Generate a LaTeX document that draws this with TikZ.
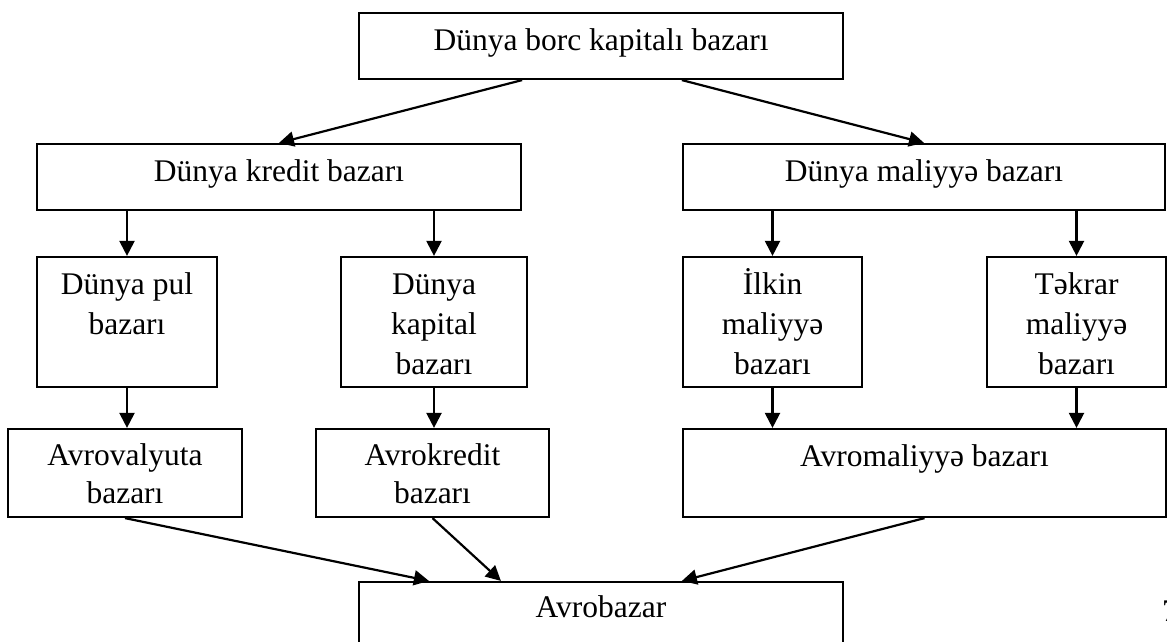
\documentclass[tikz,border=0pt]{standalone}
\usepackage{fontspec}
\setmainfont{Liberation Serif}
\usetikzlibrary{arrows.meta}
\newcommand\stk[2]{\vtop{\baselineskip=#1\lineskiplimit=-100pt\halign{\hfil##\hfil\cr #2\crcr}}}
\begin{document}
\begin{tikzpicture}[x=1pt,y=-1pt,
  box/.style={draw, line width=2.2pt, inner sep=0pt},
  txt/.style={anchor=base, inner sep=0pt, font=\fontsize{31.5}{40}\selectfont},
  arr/.style={line width=2.2pt, -{Triangle[length=15pt,width=15pt]}}]
\useasboundingbox (0,0) rectangle (1167,641);
% row 1
\node[box, minimum width=484pt, minimum height=66pt] (top) at (601,46) {};
\node[txt] (ttop) at ([yshift=-39pt]top.north) {Dünya borc kapitalı bazarı};
% row 2
\node[box, minimum width=484pt, minimum height=66pt] (kredit) at (279,177) {};
\node[txt] (tkredit) at ([yshift=-39pt]kredit.north) {Dünya kredit bazarı};
\node[box, minimum width=482pt, minimum height=66pt] (maliyye) at (924,177) {};
\node[txt] (tmaliyye) at ([yshift=-39pt]maliyye.north) {Dünya maliyyə bazarı};
% row 3
\node[box, minimum width=180pt, minimum height=130pt] (pul) at (127,322) {};
\node[txt] (tpul) at ([yshift=-39pt]pul.north) {\stk{40pt}{Dünya pul\cr bazarı}};
\node[box, minimum width=186pt, minimum height=130pt] (kapital) at (434,322) {};
\node[txt] (tkapital) at ([yshift=-39pt]kapital.north) {\stk{40pt}{Dünya\cr kapital\cr bazarı}};
\node[box, minimum width=179pt, minimum height=130pt] (ilkin) at (772.5,322) {};
\node[txt] (tilkin) at ([yshift=-39pt]ilkin.north) {\stk{40pt}{İlkin\cr maliyyə\cr bazarı}};
\node[box, minimum width=179pt, minimum height=130pt] (tekrar) at (1076.5,322) {};
\node[txt] (ttekrar) at ([yshift=-39pt]tekrar.north) {\stk{40pt}{Təkrar\cr maliyyə\cr bazarı}};
% row 4
\node[box, minimum width=234pt, minimum height=88pt] (valyuta) at (125,473) {};
\node[txt] (tvalyuta) at ([yshift=-38pt]valyuta.north) {\stk{38pt}{Avrovalyuta\cr bazarı}};
\node[box, minimum width=233pt, minimum height=88pt] (avrokredit) at (432.5,473) {};
\node[txt] (tavrokredit) at ([yshift=-38pt]avrokredit.north) {\stk{38pt}{Avrokredit\cr bazarı}};
\node[box, minimum width=483pt, minimum height=88pt] (avromaliyye) at (924.5,473) {};
\node[txt] (tavromaliyye) at ([yshift=-39pt]avromaliyye.north) {Avromaliyyə bazarı};
% row 5
\node[box, minimum width=484pt, minimum height=66pt] (avrobazar) at (601,615) {};
\node[txt] (tavrobazar) at ([yshift=-37pt]avrobazar.north) {Avrobazar};
% page number (cut off in the reference)
\node[txt, anchor=base west] (pg) at (1162,621) {7};
% connectors
\draw[arr] (top.south -| kredit.east) -- (kredit.north);
\draw[arr] (top.south -| maliyye.west) -- (maliyye.north);
\draw[arr] (kredit.south -| pul.north) -- (pul.north);
\draw[arr] (kredit.south -| kapital.north) -- (kapital.north);
\draw[arr] (maliyye.south -| ilkin.north) -- (ilkin.north);
\draw[arr] (maliyye.south -| tekrar.north) -- (tekrar.north);
\draw[arr] (pul.south) -- (pul.south |- valyuta.north);
\draw[arr] (kapital.south) -- (kapital.south |- avrokredit.north);
\draw[arr] (ilkin.south) -- (ilkin.south |- avromaliyye.north);
\draw[arr] (tekrar.south) -- (tekrar.south |- avromaliyye.north);
\draw[arr] (valyuta.south) -- ([xshift=71pt]avrobazar.north west);
\draw[arr] (avrokredit.south) -- ([xshift=143pt]avrobazar.north west);
\draw[arr] (avromaliyye.south) -- ([xshift=324pt]avrobazar.north west);
\end{tikzpicture}
\end{document}
